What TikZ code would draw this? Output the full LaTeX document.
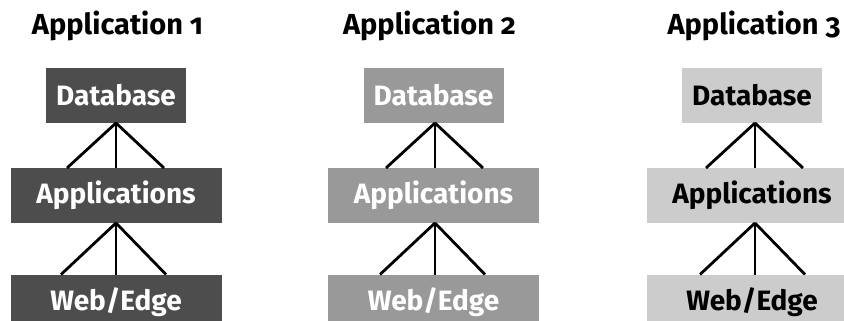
\documentclass[tikz,border=0pt]{standalone}
\usepackage{fontspec}
\setmainfont{Fira Sans}[Numbers=OldStyle]
\definecolor{dark}{HTML}{4D4D4D}
\definecolor{mid}{HTML}{999999}
\definecolor{light}{HTML}{CCCCCC}
\begin{document}
\begin{tikzpicture}[x=1pt,y=-1pt,
  tier/.style={inner sep=0pt,outer sep=0pt,font=\fontsize{28}{30}\selectfont\bfseries,minimum height=55pt},
  smallbox/.style={tier,minimum width=140pt},
  widebox/.style={tier,minimum width=211pt},
  title/.style={font=\fontsize{29}{31}\selectfont\bfseries,inner sep=0pt,anchor=base},
  link/.style={line width=2.8pt,black}]
\useasboundingbox (0,0) rectangle (844,321);
% column 1
\node[title] (t1) at (117.5,35) {Application 1};
\node[smallbox,fill=dark,text=white] (db1) at (116,95.5) {Database};
\node[widebox,fill=dark,text=white] (ap1) at (116,195.5) {Applications};
\node[widebox,fill=dark,text=white] (we1) at (116,302) {Web/Edge};
% column 2
\node[title] (t2) at (429.5,35) {Application 2};
\node[smallbox,fill=mid,text=white] (db2) at (433.5,95.5) {Database};
\node[widebox,fill=mid,text=white] (ap2) at (433.5,195.5) {Applications};
\node[widebox,fill=mid,text=white] (we2) at (433.5,302) {Web/Edge};
% column 3
\node[title] (t3) at (754,35) {Application 3};
\node[smallbox,fill=light,text=black] (db3) at (752,95.5) {Database};
\node[widebox,fill=light,text=black] (ap3) at (752,195.5) {Applications};
\node[widebox,fill=light,text=black] (we3) at (752,302) {Web/Edge};
% connectors
\foreach \c/\s in {1/0,2/1.5,3/3}{
  \draw[link] ([xshift=\s pt]db\c.south) -- ([xshift=\s pt-49pt]ap\c.north);
  \draw[link] ([xshift=\s pt]db\c.south) -- ([xshift=\s pt]ap\c.north);
  \draw[link] ([xshift=\s pt]db\c.south) -- ([xshift=\s pt+48pt]ap\c.north);
  \draw[link] ([xshift=\s pt]ap\c.south) -- ([xshift=\s pt-55pt]we\c.north);
  \draw[link] ([xshift=\s pt]ap\c.south) -- ([xshift=\s pt]we\c.north);
  \draw[link] ([xshift=\s pt]ap\c.south) -- ([xshift=\s pt+50pt]we\c.north);
}
\end{tikzpicture}
\end{document}
